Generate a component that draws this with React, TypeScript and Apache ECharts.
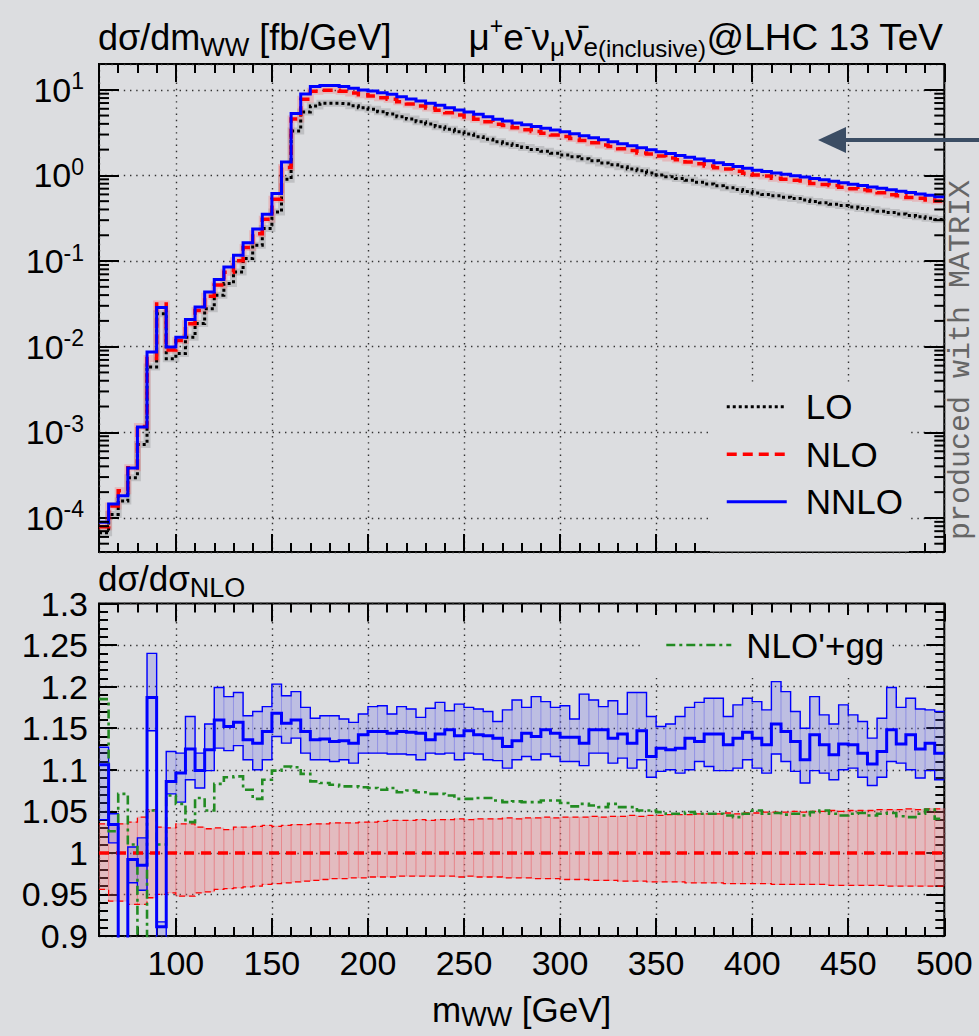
import React, { useEffect, useRef } from 'react';
import * as echarts from 'echarts';

// m_WW binning: 5 GeV bins from 60 to 500 GeV
const M_MIN = 60;
const M_MAX = 500;
const BIN_WIDTH = 5;
const massEdges = Array.from({ length: (M_MAX - M_MIN) / BIN_WIDTH + 1 }, (_, i) => M_MIN + BIN_WIDTH * i);

// dσ/dm_WW [fb/GeV], one value per bin
const loXsec = [
  6.7e-5, 1.10e-4, 1.58e-4, 2.95e-4, 7.2e-4, 5.8e-3, 2.43e-2, 7.24e-3, 8.3e-3, 1.29e-2,
  1.86e-2, 2.78e-2, 3.98e-2, 5.46e-2, 7.46e-2, 0.107, 0.153, 0.240, 0.375, 0.90,
  3.3, 5.5, 6.47, 6.95, 6.95, 6.85, 6.52, 6.18, 5.92, 5.55,
  5.21, 4.84, 4.56, 4.24, 3.98, 3.70, 3.45, 3.24, 3.04, 2.83,
  2.64, 2.47, 2.35, 2.23, 2.12, 2.01, 1.91, 1.82, 1.73, 1.65,
  1.56, 1.48, 1.40, 1.33, 1.26, 1.19, 1.13, 1.07, 1.01, 0.966,
  0.918, 0.875, 0.832, 0.792, 0.755, 0.718, 0.684, 0.650, 0.622, 0.600,
  0.577, 0.556, 0.536, 0.515, 0.497, 0.479, 0.460, 0.444, 0.428, 0.412,
  0.396, 0.382, 0.368, 0.354, 0.341, 0.329, 0.316, 0.305,
];
const nloXsec = [
  7.9e-5, 1.38e-4, 2.08e-4, 3.85e-4, 1.17e-3, 7.29e-3, 3.14e-2, 9.12e-3, 1.18e-2, 1.85e-2,
  2.64e-2, 3.87e-2, 5.24e-2, 7.38e-2, 0.101, 0.1435, 0.2085, 0.307, 0.527, 1.237,
  4.57, 7.77, 9.60, 9.85, 9.88, 9.60, 9.19, 8.72, 8.46, 8.07,
  7.74, 7.24, 6.81, 6.46, 6.12, 5.77, 5.38, 5.09, 4.80, 4.53,
  4.24, 3.97, 3.82, 3.61, 3.42, 3.26, 3.10, 2.96, 2.84, 2.70,
  2.56, 2.40, 2.27, 2.17, 2.05, 1.96, 1.83, 1.78, 1.68, 1.60,
  1.52, 1.43, 1.37, 1.29, 1.23, 1.19, 1.12, 1.06, 1.01, 0.982,
  0.926, 0.899, 0.876, 0.859, 0.806, 0.785, 0.763, 0.727, 0.700, 0.680,
  0.662, 0.629, 0.593, 0.579, 0.553, 0.540, 0.517, 0.504,
];
const nnloXsec = [
  8.9e-5, 1.45e-4, 1.81e-4, 3.82e-4, 1.15e-3, 8.65e-3, 2.86e-2, 9.9e-3, 1.29e-2, 2.08e-2,
  2.9e-2, 4.35e-2, 6.08e-2, 8.5e-2, 0.117, 0.163, 0.236, 0.352, 0.615, 1.43,
  5.3, 8.9, 10.9, 11.2, 11.2, 10.9, 10.4, 9.96, 9.7, 9.25,
  8.85, 8.3, 7.8, 7.39, 6.95, 6.59, 6.18, 5.81, 5.5, 5.17,
  4.84, 4.52, 4.31, 4.10, 3.91, 3.72, 3.56, 3.39, 3.24, 3.07,
  2.90, 2.75, 2.61, 2.47, 2.34, 2.22, 2.10, 1.99, 1.89, 1.80,
  1.71, 1.63, 1.55, 1.48, 1.41, 1.34, 1.27, 1.21, 1.15, 1.11,
  1.07, 1.03, 0.993, 0.955, 0.920, 0.887, 0.853, 0.822, 0.791, 0.762,
  0.733, 0.706, 0.681, 0.655, 0.631, 0.608, 0.585, 0.564,
];

// ratios to NLO
const nloRatioCentral = 1;
const nloRatioUp = [
  1.035, 1.034, 1.035, 1.037, 1.043, 1.052, 1.031, 1.030, 1.035, 1.035,
  1.031, 1.029, 1.030, 1.028, 1.031, 1.031, 1.032, 1.033, 1.032, 1.033,
  1.034, 1.034, 1.035, 1.035, 1.036, 1.036, 1.036, 1.037, 1.037, 1.038,
  1.039, 1.039, 1.039, 1.040, 1.039, 1.040, 1.040, 1.041, 1.040, 1.041,
  1.041, 1.041, 1.042, 1.041, 1.042, 1.042, 1.043, 1.042, 1.043, 1.043,
  1.043, 1.044, 1.043, 1.044, 1.044, 1.045, 1.044, 1.045, 1.045, 1.046,
  1.046, 1.046, 1.047, 1.047, 1.047, 1.048, 1.047, 1.048, 1.048, 1.049,
  1.049, 1.049, 1.050, 1.049, 1.050, 1.050, 1.051, 1.050, 1.051, 1.051,
  1.051, 1.052, 1.052, 1.052, 1.053, 1.052, 1.053, 1.053,
];
const nloRatioDown = [
  0.956, 0.942, 0.942, 0.938, 0.938, 0.946, 0.950, 0.952, 0.948, 0.948,
  0.952, 0.953, 0.956, 0.957, 0.958, 0.959, 0.960, 0.962, 0.963, 0.964,
  0.965, 0.966, 0.967, 0.968, 0.969, 0.969, 0.970, 0.970, 0.971, 0.971,
  0.971, 0.972, 0.972, 0.972, 0.972, 0.972, 0.972, 0.971, 0.972, 0.971,
  0.971, 0.971, 0.970, 0.970, 0.970, 0.969, 0.969, 0.969, 0.968, 0.968,
  0.968, 0.967, 0.967, 0.967, 0.966, 0.966, 0.966, 0.965, 0.965, 0.965,
  0.965, 0.964, 0.964, 0.964, 0.964, 0.963, 0.963, 0.963, 0.963, 0.963,
  0.962, 0.962, 0.962, 0.962, 0.962, 0.962, 0.961, 0.961, 0.961, 0.961,
  0.961, 0.961, 0.960, 0.960, 0.960, 0.960, 0.960, 0.960,
];
const nnloRatio = [
  1.106, 1.034, 0.86, 0.992, 0.985, 1.187, 0.911, 1.086, 1.096, 1.125,
  1.099, 1.124, 1.160, 1.152, 1.157, 1.136, 1.132, 1.146, 1.168, 1.156,
  1.160, 1.146, 1.136, 1.137, 1.134, 1.135, 1.132, 1.142, 1.146, 1.146,
  1.144, 1.146, 1.145, 1.144, 1.136, 1.143, 1.148, 1.141, 1.147, 1.142,
  1.141, 1.138, 1.128, 1.135, 1.144, 1.140, 1.148, 1.144, 1.139, 1.139,
  1.132, 1.148, 1.148, 1.138, 1.143, 1.132, 1.147, 1.116, 1.126, 1.124,
  1.126, 1.138, 1.134, 1.143, 1.143, 1.130, 1.138, 1.145, 1.138, 1.130,
  1.155, 1.146, 1.134, 1.112, 1.142, 1.130, 1.118, 1.131, 1.130, 1.120,
  1.107, 1.122, 1.148, 1.131, 1.142, 1.125, 1.132, 1.120,
];
const nnloRatioUp = [
  1.127, 1.047, 0.89, 1.007, 1.018, 1.240, 0.917, 1.122, 1.120, 1.164,
  1.120, 1.155, 1.199, 1.188, 1.193, 1.165, 1.170, 1.176, 1.203, 1.189,
  1.194, 1.175, 1.162, 1.165, 1.165, 1.161, 1.157, 1.167, 1.176, 1.177,
  1.167, 1.176, 1.173, 1.163, 1.174, 1.181, 1.171, 1.179, 1.175, 1.173,
  1.170, 1.158, 1.172, 1.184, 1.175, 1.188, 1.182, 1.175, 1.177, 1.161,
  1.191, 1.184, 1.176, 1.183, 1.167, 1.193, 1.193, 1.164, 1.152, 1.155,
  1.164, 1.175, 1.181, 1.186, 1.186, 1.164, 1.178, 1.186, 1.182, 1.172,
  1.206, 1.194, 1.170, 1.150, 1.188, 1.166, 1.155, 1.178, 1.166, 1.158,
  1.138, 1.162, 1.199, 1.175, 1.186, 1.173, 1.172, 1.170,
];
const nnloRatioDown = [
  1.040, 1.012, 0.82, 0.964, 0.955, 1.147, 0.895, 1.071, 1.061, 1.088,
  1.078, 1.099, 1.126, 1.123, 1.129, 1.112, 1.100, 1.112, 1.140, 1.132,
  1.138, 1.120, 1.112, 1.112, 1.110, 1.112, 1.108, 1.120, 1.120, 1.120,
  1.119, 1.119, 1.118, 1.112, 1.120, 1.119, 1.120, 1.112, 1.120, 1.119,
  1.112, 1.111, 1.102, 1.112, 1.116, 1.112, 1.119, 1.116, 1.110, 1.110,
  1.105, 1.120, 1.120, 1.108, 1.114, 1.102, 1.112, 1.091, 1.098, 1.100,
  1.096, 1.100, 1.110, 1.104, 1.099, 1.099, 1.102, 1.112, 1.102, 1.096,
  1.119, 1.110, 1.098, 1.084, 1.099, 1.096, 1.088, 1.100, 1.102, 1.091,
  1.081, 1.091, 1.110, 1.108, 1.100, 1.090, 1.099, 1.088,
];
const nloGgRatio = [
  1.185, 1.026, 1.071, 1.010, 0.85, 1.051, 1.010, 1.069, 1.059, 1.037,
  1.066, 1.051, 1.083, 1.091, 1.092, 1.076, 1.065, 1.088, 1.099, 1.104,
  1.103, 1.095, 1.086, 1.084, 1.082, 1.080, 1.080, 1.079, 1.078, 1.076,
  1.078, 1.073, 1.075, 1.073, 1.071, 1.071, 1.069, 1.065, 1.065, 1.066,
  1.066, 1.063, 1.061, 1.062, 1.061, 1.061, 1.063, 1.063, 1.060, 1.056,
  1.059, 1.057, 1.055, 1.059, 1.055, 1.055, 1.051, 1.051, 1.049, 1.047,
  1.047, 1.049, 1.047, 1.047, 1.047, 1.045, 1.043, 1.047, 1.051, 1.047,
  1.048, 1.046, 1.047, 1.045, 1.049, 1.051, 1.047, 1.045, 1.047, 1.048,
  1.045, 1.047, 1.048, 1.044, 1.043, 1.047, 1.052, 1.041,
];

// axis ranges and log-axis minor tick positions
const XSEC_MIN = 4e-5;
const XSEC_MAX = 20;
const RATIO_MIN = 0.9;
const RATIO_MAX = 1.3;
const RATIO_STEP = 0.05;
const logDecades = [-5, -4, -3, -2, -1, 0, 1];
const logMinorTicks = logDecades
  .flatMap((d) => [2, 3, 4, 5, 6, 7, 8, 9].map((k) => k * Math.pow(10, d)))
  .filter((v) => v > XSEC_MIN && v < XSEC_MAX);

const FONT = '"Liberation Sans", Arial, Helvetica, sans-serif';
const BG = '#dcdde0';
const BLUE = '#0000ff';
const RED = '#ff0000';
const GREEN = '#228b22';

// line looks shared by the curves and their legend samples
const loLine = { color: '#000', width: 3, type: [3, 3] };
const nloLine = { color: RED, width: 3.5, type: [10, 6] };
const nnloLine = { color: BLUE, width: 3 };
const ggLine = { color: GREEN, width: 2.6, type: [9, 4, 3, 4] };

const stepData = (vals: number[]) => {
  const pts = vals.map((v, i) => [massEdges[i], v]);
  pts.push([massEdges[massEdges.length - 1], vals[vals.length - 1]]);
  return pts;
};
const bandData = (lo: number[], hi: number[]) =>
  lo.map((l, i) => [massEdges[i], massEdges[i + 1], l, hi[i]]);

const sup = { fontSize: 23, verticalAlign: 'top', lineHeight: 23, fontFamily: FONT, color: '#000' };
const sub = { fontSize: 26, verticalAlign: 'bottom', lineHeight: 26, fontFamily: FONT, color: '#000' };
const small = { fontSize: 24, verticalAlign: 'bottom', lineHeight: 25, fontFamily: FONT, color: '#000' };
const base = { fontSize: 36, fontFamily: FONT, color: '#000', lineHeight: 46 };

const tickLine = { color: '#000', width: 2 };
const gridDots = { color: '#333', width: 1.4, type: [1.4, 4.8] };

function massAxis(gridIndex: number, position: string, withLabels: boolean, withGrid: boolean) {
  return {
    type: 'value',
    gridIndex,
    position,
    min: M_MIN,
    max: M_MAX,
    splitNumber: 9,
    axisLine: { show: false },
    axisTick: { show: true, inside: true, length: 18, lineStyle: tickLine },
    minorTick: { show: true, splitNumber: 5, length: 9, lineStyle: tickLine },
    splitLine: { show: withGrid, lineStyle: gridDots },
    minorSplitLine: { show: false },
    axisLabel: withLabels
      ? {
          show: true,
          fontSize: 34,
          fontFamily: FONT,
          color: '#000',
          margin: 10,
          formatter: (v: number) => (v % 50 === 0 ? String(v) : ''),
        }
      : { show: false },
    ...(withLabels
      ? {
          name: 'm{sub|WW} [GeV]',
          nameLocation: 'middle',
          nameGap: 52,
          nameMoveOverlap: false,
          nameTextStyle: { ...base, fontSize: 35, lineHeight: 42, rich: { sub: { ...sub, fontSize: 27, lineHeight: 27 } } },
        }
      : {}),
  };
}

function xsecAxis(position: string, main: boolean) {
  return {
    type: 'log',
    logBase: 10,
    gridIndex: 0,
    position,
    min: XSEC_MIN,
    max: XSEC_MAX,
    axisLine: { show: false },
    axisTick: { show: true, inside: true, length: 20, lineStyle: tickLine },
    splitLine: { show: main, lineStyle: gridDots },
    axisLabel: main
      ? {
          show: true,
          fontSize: 34,
          fontFamily: FONT,
          color: '#000',
          lineHeight: 40,
          margin: 15,
          showMinLabel: false,
          showMaxLabel: false,
          formatter: (v: number) => {
            const e = Math.log10(v);
            const n = Math.round(e);
            return Math.abs(e - n) < 1e-6 ? `10{sup|${n}}` : '';
          },
          rich: { sup },
        }
      : { show: false },
  };
}

function ratioAxis(position: string, main: boolean) {
  return {
    type: 'value',
    gridIndex: 1,
    position,
    min: RATIO_MIN,
    max: RATIO_MAX,
    interval: RATIO_STEP,
    axisLine: { show: false },
    axisTick: { show: true, inside: true, length: 18, lineStyle: tickLine },
    minorTick: { show: true, splitNumber: 5, length: 9, lineStyle: tickLine },
    splitLine: { show: main, lineStyle: gridDots },
    minorSplitLine: { show: false },
    axisLabel: main
      ? {
          show: true,
          fontSize: 34,
          fontFamily: FONT,
          color: '#000',
          margin: 11,
          showMinLabel: true,
          showMaxLabel: true,
        }
      : { show: false },
  };
}

const bandRenderer = (fill: string, stroke: string) => (params: any, api: any) => {
  const p0 = api.coord([api.value(0), api.value(3)]);
  const p1 = api.coord([api.value(1), api.value(2)]);
  return {
    type: 'rect',
    shape: { x: p0[0], y: p0[1], width: p1[0] - p0[0], height: p1[1] - p0[1] },
    style: { fill, stroke, lineWidth: 1 },
  };
};

const lineSeries = (name: string, data: number[][], axis: number, lineStyle: any, z = 2) => ({
  name,
  type: 'line',
  step: 'end',
  xAxisIndex: axis === 0 ? 0 : 2,
  yAxisIndex: axis === 0 ? 0 : 2,
  data,
  symbol: 'none',
  showSymbol: false,
  silent: true,
  clip: true,
  z,
  itemStyle: { color: lineStyle.color },
  lineStyle: { cap: 'butt', join: 'miter', ...lineStyle },
});

const legendCommon = {
  orient: 'vertical',
  backgroundColor: BG,
  selectedMode: false,
  itemHeight: 14,
  itemStyle: { opacity: 0, borderWidth: 0 },
};

function buildOption() {
  return {
    animation: false,
    backgroundColor: BG,
    textStyle: { fontFamily: FONT },
    grid: [
      { left: 99, right: 34.7, top: 64, height: 488, show: true, borderColor: '#000', borderWidth: 2, backgroundColor: 'transparent', outerBoundsMode: 'none' },
      { left: 99, right: 34.7, top: 603.5, height: 332.5, show: true, borderColor: '#000', borderWidth: 2, backgroundColor: 'transparent', outerBoundsMode: 'none' },
    ],
    xAxis: [
      massAxis(0, 'bottom', false, true),
      massAxis(0, 'top', false, false),
      massAxis(1, 'bottom', true, true),
      massAxis(1, 'top', false, false),
    ],
    yAxis: [xsecAxis('left', true), xsecAxis('right', false), ratioAxis('left', true), ratioAxis('right', false)],
    legend: [
      {
        ...legendCommon,
        data: [
          { name: 'LO', lineStyle: loLine },
          { name: 'NLO', lineStyle: nloLine },
          { name: 'NNLO', lineStyle: nnloLine },
        ],
        left: 710,
        top: 382,
        padding: [1, 6, 26, 15],
        itemGap: 0,
        itemWidth: 60,
        textStyle: { fontSize: 35, fontFamily: FONT, color: '#000', lineHeight: 47.5, padding: [0, 0, 0, 14] },
      },
      {
        ...legendCommon,
        data: [{ name: "NLO'+gg", lineStyle: ggLine }],
        left: 640,
        top: 615,
        padding: [10, 6, 8, 25],
        itemWidth: 65,
        textStyle: { fontSize: 35, fontFamily: FONT, color: '#000', lineHeight: 40, padding: [0, 0, 0, 10] },
      },
    ],
    graphic: [
      {
        type: 'text',
        x: 98,
        y: 37,
        z: 10,
        style: {
          text: 'dσ/dm{sub|WW} [fb/GeV]',
          align: 'left',
          verticalAlign: 'middle',
          ...base,
          fill: '#000',
          rich: { sub },
        },
      },
      {
        type: 'text',
        x: 943,
        y: 37,
        z: 10,
        style: {
          text: 'μ{sup|+}e{sup|-}ν{sub|μ}ν\u0304{sub|e}{small|(inclusive)}@LHC 13 TeV',
          align: 'right',
          verticalAlign: 'middle',
          ...base,
          fontSize: 37,
          fill: '#000',
          rich: { sup, sub, small },
        },
      },
      {
        type: 'text',
        x: 98,
        y: 578,
        z: 10,
        style: {
          text: 'dσ/dσ{sub|NLO}',
          align: 'left',
          verticalAlign: 'middle',
          ...base,
          fontSize: 35,
          fill: '#000',
          rich: { sub: { ...sub, fontSize: 27, lineHeight: 27 } },
        },
      },
      {
        type: 'text',
        x: 961,
        y: 360,
        z: 10,
        rotation: Math.PI / 2,
        style: {
          text: 'produced with MATRIX',
          align: 'center',
          verticalAlign: 'middle',
          fontSize: 30,
          fontFamily: '"Liberation Mono", "DejaVu Sans Mono", monospace',
          fill: '#666',
        },
      },
      {
        type: 'line',
        z: 10,
        shape: { x1: 843, y1: 140, x2: 979, y2: 140 },
        style: { stroke: '#3b4d64', lineWidth: 4 },
      },
      {
        type: 'polygon',
        z: 10,
        shape: { points: [[818, 140], [846, 127], [846, 153]] },
        style: { fill: '#3b4d64' },
      },
    ],
    series: [
      // log-axis minor ticks on both sides of the upper frame
      {
        type: 'custom',
        xAxisIndex: 0,
        yAxisIndex: 0,
        silent: true,
        clip: false,
        z: 5,
        data: logMinorTicks.map((v) => [M_MIN, v]),
        encode: { x: 0, y: 1 },
        renderItem: (params: any, api: any) => {
          const cs = params.coordSys;
          const y = api.coord([M_MIN, api.value(1)])[1];
          return {
            type: 'group',
            children: [
              { type: 'line', shape: { x1: cs.x, y1: y, x2: cs.x + 10, y2: y }, style: { stroke: '#000', lineWidth: 2 } },
              { type: 'line', shape: { x1: cs.x + cs.width - 10, y1: y, x2: cs.x + cs.width, y2: y }, style: { stroke: '#000', lineWidth: 2 } },
            ],
          };
        },
      },
      // upper panel: scale-variation haze under each curve
      lineSeries('LO band', stepData(loXsec), 0, { color: 'rgba(0,0,0,0.13)', width: 7 }),
      lineSeries('NLO band', stepData(nloXsec), 0, { color: 'rgba(255,60,60,0.22)', width: 7 }),
      lineSeries('LO', stepData(loXsec), 0, loLine, 3),
      lineSeries('NLO', stepData(nloXsec), 0, nloLine, 3),
      lineSeries('NNLO', stepData(nnloXsec), 0, nnloLine, 3),

      // lower panel: ratio to NLO
      {
        type: 'custom',
        xAxisIndex: 2,
        yAxisIndex: 2,
        silent: true,
        clip: true,
        z: 1,
        data: bandData(nloRatioDown, nloRatioUp),
        encode: { x: [0, 1], y: [2, 3] },
        renderItem: bandRenderer('rgba(245,110,115,0.30)', 'rgba(235,90,95,0.30)'),
      },
      {
        type: 'custom',
        xAxisIndex: 2,
        yAxisIndex: 2,
        silent: true,
        clip: true,
        z: 1,
        data: bandData(nnloRatioDown, nnloRatioUp),
        encode: { x: [0, 1], y: [2, 3] },
        renderItem: bandRenderer('rgba(90,90,235,0.24)', 'rgba(80,80,230,0.22)'),
      },
      lineSeries('NLO ratio up', stepData(nloRatioUp), 1, { color: RED, width: 1.3, type: [6, 4] }),
      lineSeries('NLO ratio down', stepData(nloRatioDown), 1, { color: RED, width: 1.3, type: [6, 4] }),
      lineSeries('NNLO ratio up', stepData(nnloRatioUp), 1, { color: BLUE, width: 1.4 }),
      lineSeries('NNLO ratio down', stepData(nnloRatioDown), 1, { color: BLUE, width: 1.4 }),
      lineSeries('NLO ratio', massEdges.map((m) => [m, nloRatioCentral]), 1, { color: RED, width: 3.5, type: [10, 7] }, 3),
      lineSeries("NLO'+gg", stepData(nloGgRatio), 1, ggLine, 3),
      lineSeries('NNLO ratio', stepData(nnloRatio), 1, { color: BLUE, width: 3 }, 4),
    ],
  };
}

export default function App() {
  const ref = useRef<HTMLDivElement>(null);
  useEffect(() => {
    if (!ref.current) return;
    const chart = echarts.init(ref.current, null, { renderer: 'svg' });
    chart.setOption(buildOption() as any);
    return () => chart.dispose();
  }, []);
  return (
    <div
      ref={ref}
      style={{ position: 'absolute', left: 0, top: 0, width: 979, height: 1036, background: BG }}
    />
  );
}
